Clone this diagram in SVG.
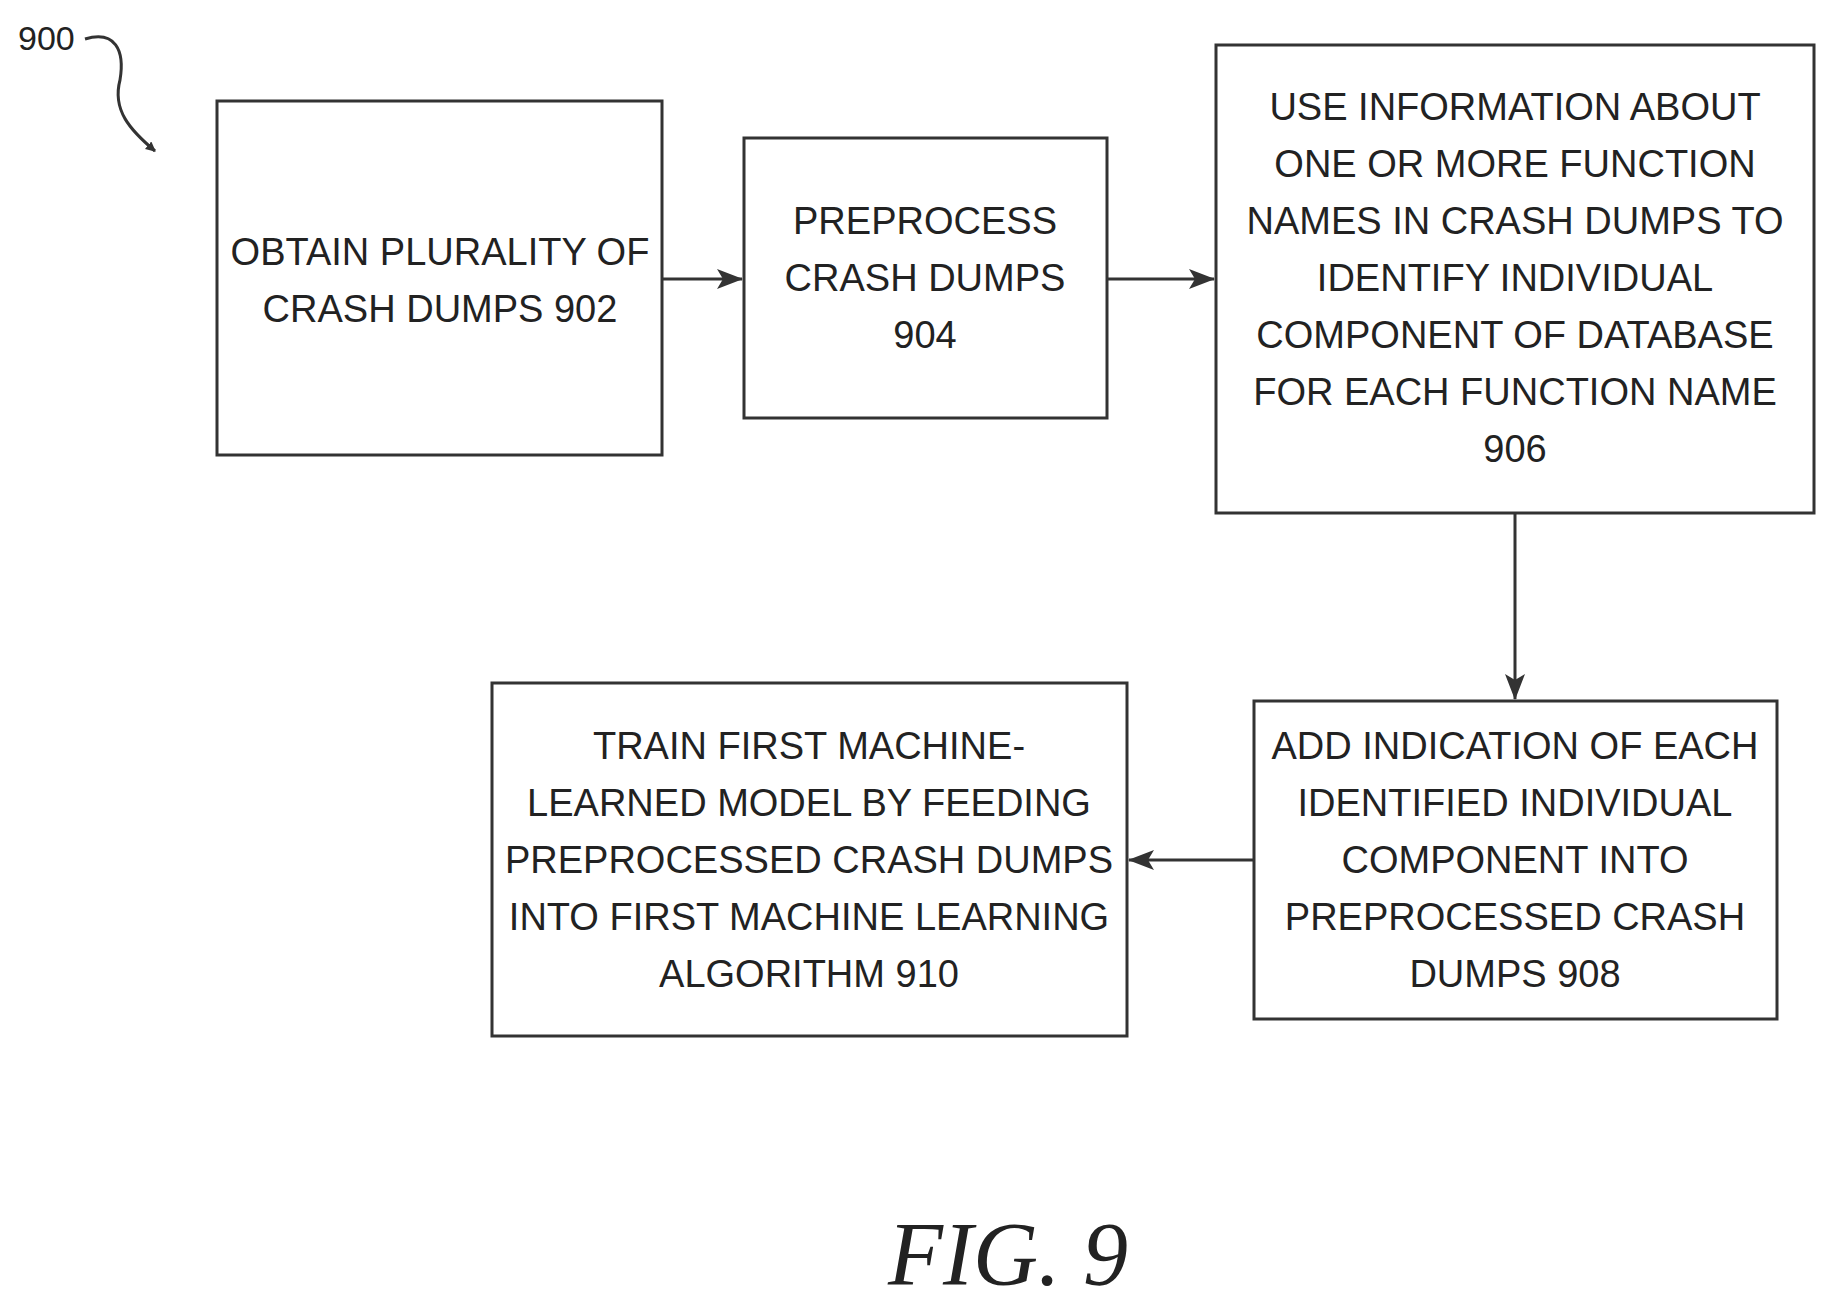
<svg xmlns="http://www.w3.org/2000/svg" width="1835" height="1309" viewBox="0 0 1835 1309">
<style>
.b{fill:none;stroke:#333;stroke-width:3}
.t{font-family:"Liberation Sans",Arial,sans-serif;font-size:38px;fill:#222;text-anchor:middle}
.c{stroke:#333;stroke-width:3;fill:none}
</style>
<defs><marker id="a" markerWidth="10" markerHeight="10" refX="9" refY="5" orient="auto" markerUnits="userSpaceOnUse"><path d="M0,0 L10,5 L0,10 Z" fill="#333"/></marker>
<marker id="A" markerWidth="26" markerHeight="20" refX="25" refY="10" orient="auto" markerUnits="userSpaceOnUse"><path d="M0,0 L26,10 L0,20 L6,10 Z" fill="#333"/></marker></defs>
<rect width="1835" height="1309" fill="#fff"/>
<text x="18" y="50" font-family="Liberation Sans,sans-serif" font-size="34" fill="#222">900</text>
<g id="n902"><rect class="b" x="217" y="101" width="445" height="354"/><text class="t" x="440" y="265">OBTAIN PLURALITY OF</text><text class="t" x="440" y="322">CRASH DUMPS 902</text></g>
<g id="n904"><rect class="b" x="744" y="138" width="363" height="280"/><text class="t" x="925" y="234">PREPROCESS</text><text class="t" x="925" y="291">CRASH DUMPS</text><text class="t" x="925" y="348">904</text></g>
<g id="n906"><rect class="b" x="1216" y="45" width="598" height="468"/>
<text class="t" x="1515" y="120">USE INFORMATION ABOUT</text><text class="t" x="1515" y="177">ONE OR MORE FUNCTION</text><text class="t" x="1515" y="234">NAMES IN CRASH DUMPS TO</text><text class="t" x="1515" y="291">IDENTIFY INDIVIDUAL</text><text class="t" x="1515" y="348">COMPONENT OF DATABASE</text><text class="t" x="1515" y="405">FOR EACH FUNCTION NAME</text><text class="t" x="1515" y="462">906</text></g>
<g id="n908"><rect class="b" x="1254" y="701" width="523" height="318"/>
<text class="t" x="1515" y="759">ADD INDICATION OF EACH</text><text class="t" x="1515" y="816">IDENTIFIED INDIVIDUAL</text><text class="t" x="1515" y="873">COMPONENT INTO</text><text class="t" x="1515" y="930">PREPROCESSED CRASH</text><text class="t" x="1515" y="987">DUMPS 908</text></g>
<g id="n910"><rect class="b" x="492" y="683" width="635" height="353"/>
<text class="t" x="809" y="759">TRAIN FIRST MACHINE-</text><text class="t" x="809" y="816">LEARNED MODEL BY FEEDING</text><text class="t" x="809" y="873">PREPROCESSED CRASH DUMPS</text><text class="t" x="809" y="930">INTO FIRST MACHINE LEARNING</text><text class="t" x="809" y="987">ALGORITHM 910</text></g>
<g id="connectors">
<path class="c" d="M85,39 C115,30 125,50 120,80 C112,110 130,130 155,151" marker-end="url(#a)"/>
<path class="c" d="M662,279 H742" marker-end="url(#A)"/>
<path class="c" d="M1107,279 H1214" marker-end="url(#A)"/>
<path class="c" d="M1515,513 V699" marker-end="url(#A)"/>
<path class="c" d="M1254,860 H1129" marker-end="url(#A)"/>
</g>
<text x="1008" y="1285" font-family="Liberation Serif,serif" font-style="italic" font-size="90" fill="#222" text-anchor="middle">FIG. 9</text>
</svg>
